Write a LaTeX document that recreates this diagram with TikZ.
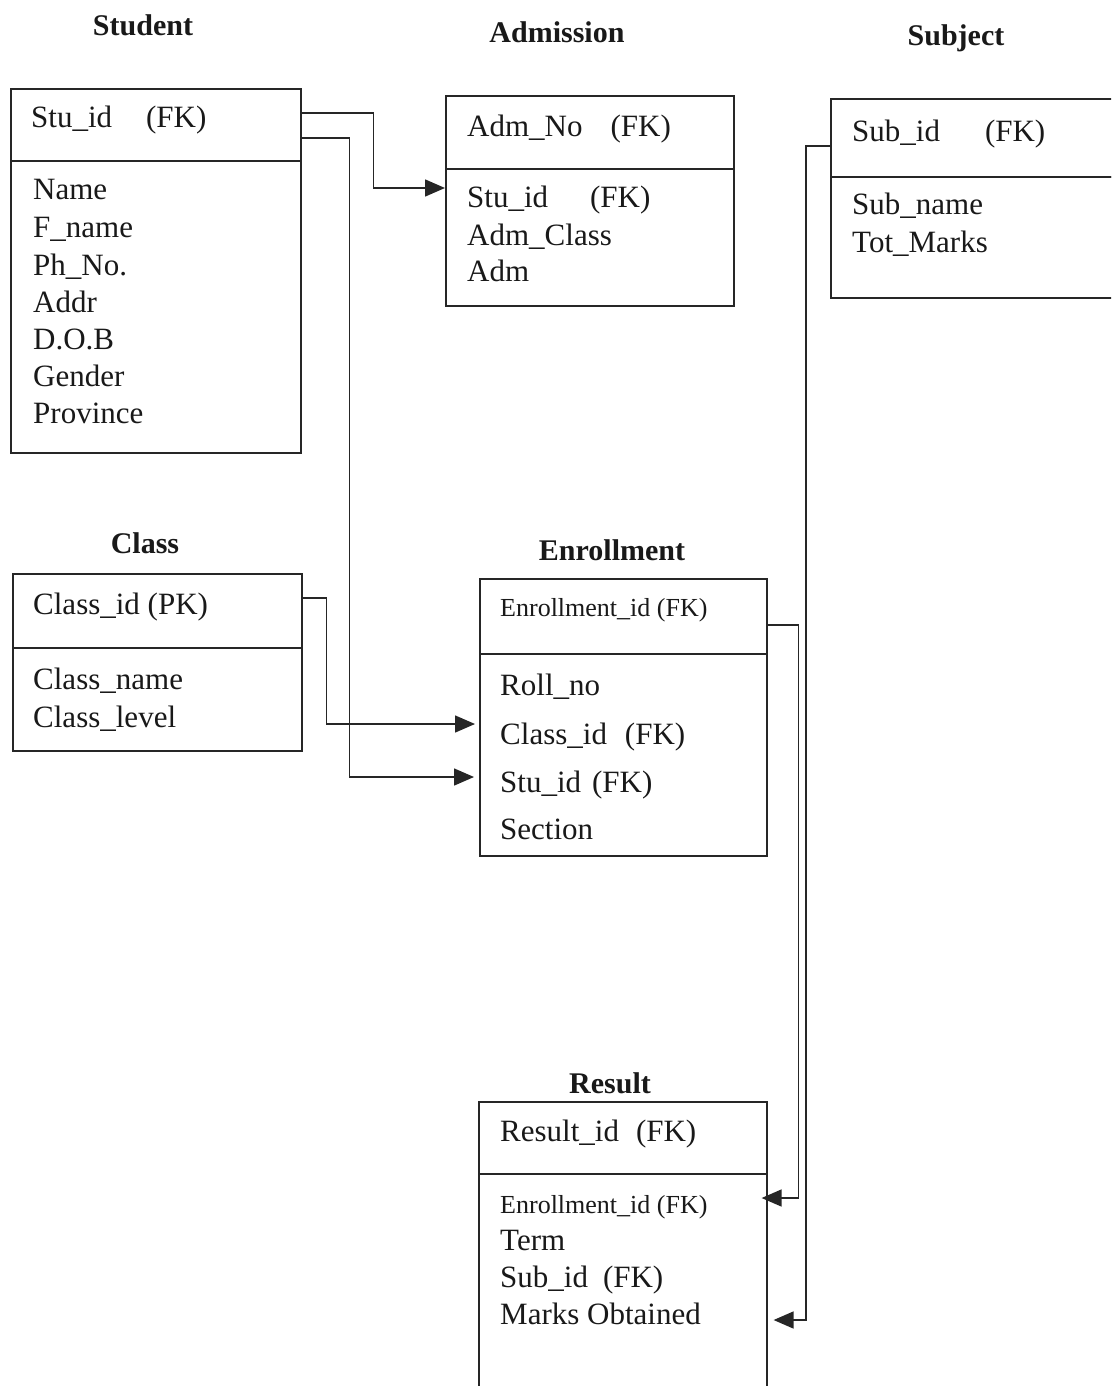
\documentclass[tikz,border=0pt]{standalone}
\usepackage{fontspec}
\setmainfont{Liberation Serif}
\usetikzlibrary{arrows.meta}
\begin{document}
\begin{tikzpicture}[x=1pt,y=-1pt,
  box/.style={draw=black!85,line width=1.6pt,inner sep=0pt,anchor=north west},
  txt/.style={anchor=base west,inner sep=0pt,text=black!90,font=\fontsize{31}{37}\selectfont},
  stxt/.style={anchor=base west,inner sep=0pt,text=black!90,font=\fontsize{26}{31}\selectfont},
  ttl/.style={anchor=center,inner sep=0pt,text=black!90,font=\fontsize{30}{36}\selectfont\bfseries},
  conn/.style={draw=black!85,line width=1.5pt,-{Triangle[length=20pt,width=17pt]}}]
\clip (0,0) rectangle (1111,1386);
\fill[white] (0,0) rectangle (1111,1386);

% ---------- Student ----------
\node[ttl] (tStu) at (143,25) {Student};
\node[box,minimum width=290pt,minimum height=72pt] (stuH) at (10,88) {};
\node[box,minimum width=290pt,minimum height=292pt] (stuB) at (10,160) {};
\node[txt] (s1) at (31,128) {Stu\_id\hspace{34pt}(FK)};
\node[txt] (s2) at (33,199) {Name};
\node[txt] (s3) at (33,237) {F\_name};
\node[txt] (s4) at (33,275) {Ph\_No.};
\node[txt] (s5) at (33,312) {Addr};
\node[txt] (s6) at (33,349) {D.O.B};
\node[txt] (s7) at (33,386) {Gender};
\node[txt] (s8) at (33,423) {Province};

% ---------- Admission ----------
\node[ttl] (tAdm) at (557,32) {Admission};
\node[box,minimum width=288pt,minimum height=73pt] (admH) at (445,95) {};
\node[box,minimum width=288pt,minimum height=137pt] (admB) at (445,168) {};
\node[txt] (a1) at (467,136) {Adm\_No\hspace{28pt}(FK)};
\node[txt] (a2) at (467,207) {Stu\_id\hspace{42pt}(FK)};
\node[txt] (a3) at (467,245) {Adm\_Class};
\node[txt] (a4) at (467,281) {Adm};

% ---------- Subject ----------
\node[ttl] (tSub) at (956,38) {Subject};
\node[box,minimum width=300pt,minimum height=78pt] (subH) at (830,98) {};
\node[box,minimum width=300pt,minimum height=121pt] (subB) at (830,176) {};
\node[txt] (b1) at (852,142) {Sub\_id\hspace{45pt}(FK)};
\node[txt] (b2) at (852,214) {Sub\_name};
\node[txt] (b3) at (852,252) {Tot\_Marks};

% ---------- Class ----------
\node[ttl] (tCls) at (145,543) {Class};
\node[box,minimum width=289pt,minimum height=74pt] (clsH) at (12,573) {};
\node[box,minimum width=289pt,minimum height=103pt] (clsB) at (12,647) {};
\node[txt] (c1) at (33,614) {Class\_id (PK)};
\node[txt] (c2) at (33,689) {Class\_name};
\node[txt] (c3) at (33,727) {Class\_level};

% ---------- Enrollment ----------
\node[ttl] (tEnr) at (612,550) {Enrollment};
\node[box,minimum width=287pt,minimum height=75pt] (enrH) at (479,578) {};
\node[box,minimum width=287pt,minimum height=202pt] (enrB) at (479,653) {};
\node[stxt] (e1) at (500,616) {Enrollment\_id (FK)};
\node[txt] (e2) at (500,695) {Roll\_no};
\node[txt] (e3) at (500,744) {Class\_id\hspace{18pt}(FK)};
\node[txt] (e4) at (500,792) {Stu\_id\hspace{11pt}(FK)};
\node[txt] (e5) at (500,839) {Section};

% ---------- Result ----------
\node[ttl] (tRes) at (610,1083) {Result};
\node[box,minimum width=288pt,minimum height=72pt] (resH) at (478,1101) {};
\node[box,minimum width=288pt,minimum height=240pt] (resB) at (478,1173) {};
\node[txt] (r1) at (500,1141) {Result\_id\hspace{17pt}(FK)};
\node[stxt] (r2) at (500,1213) {Enrollment\_id (FK)};
\node[txt] (r3) at (500,1250) {Term};
\node[txt] (r4) at (500,1287) {Sub\_id\hspace{15pt}(FK)};
\node[txt] (r5) at (500,1324) {Marks Obtained};

% ---------- Connectors ----------
\draw[conn] ([yshift=-25pt]stuH.north east) -- ++(72,0) |- ([yshift=-20pt]admB.north west);
\draw[conn,shorten >=5pt] ([yshift=-50pt]stuH.north east) -- ++(48,0) |- ([yshift=-124pt]enrB.north west);
\draw[conn,shorten >=4pt] ([yshift=-25pt]clsH.north east) -- ++(24,0) |- ([yshift=-71pt]enrB.north west);
\draw[conn,shorten >=-6pt] ([yshift=-47pt]enrH.north east) -- ++(31,0) |- ([yshift=-25pt]resB.north east);
\draw[conn,shorten >=6pt] ([yshift=-48pt]subH.north west) -- ++(-24,0) |- ([yshift=-147pt]resB.north east);
\end{tikzpicture}
\end{document}
